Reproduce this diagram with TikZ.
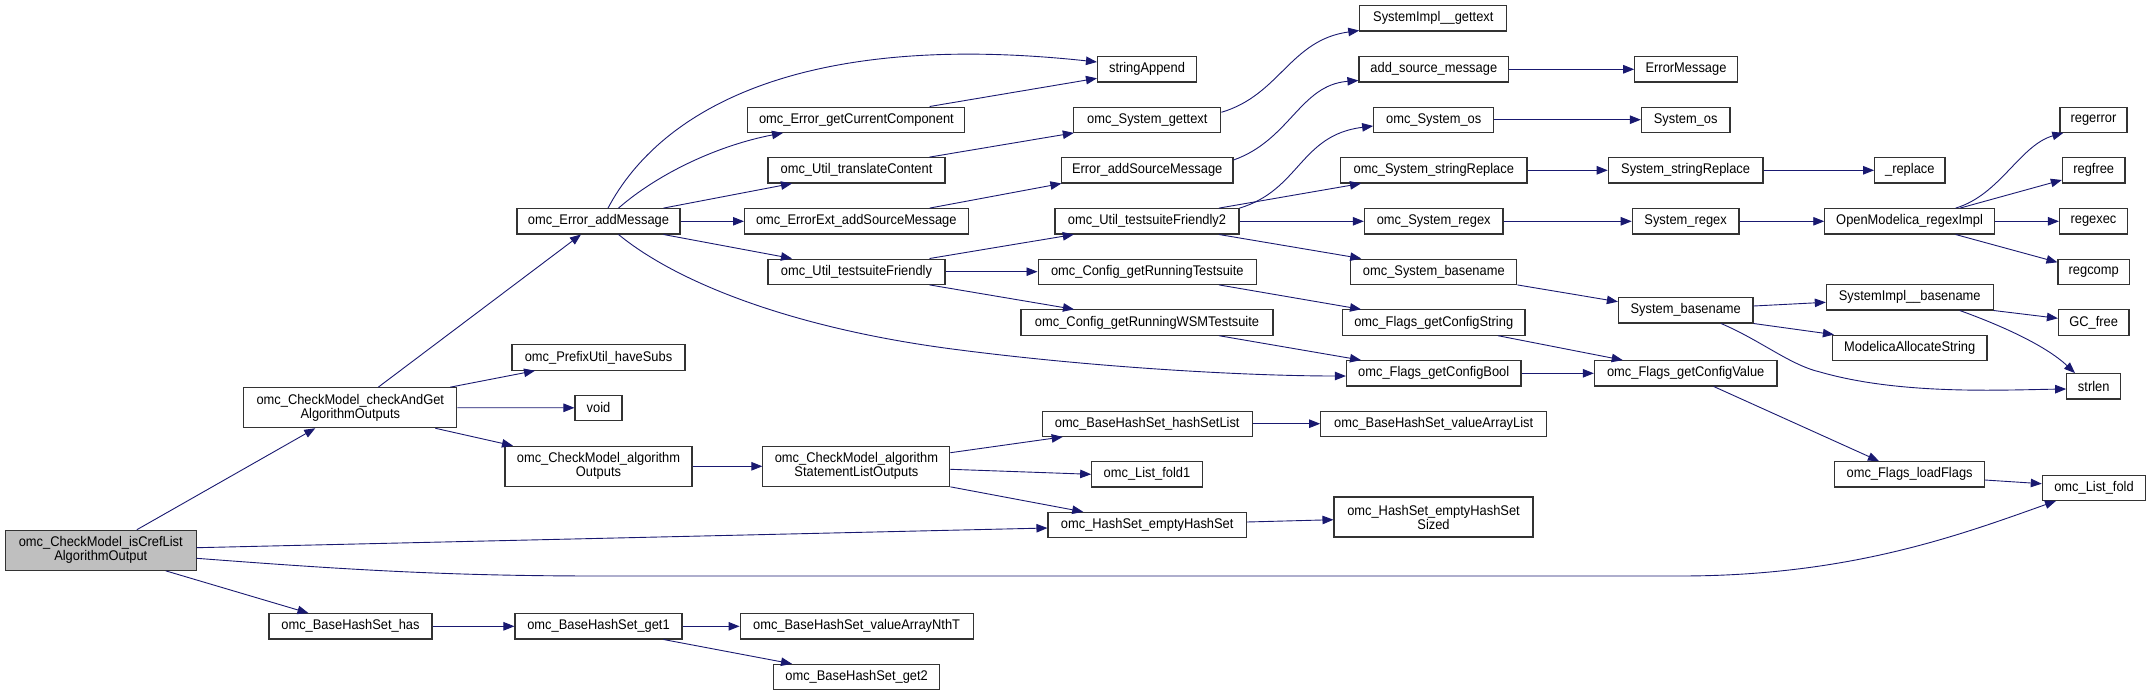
\documentclass[tikz,border=0pt]{standalone}
\usepackage{fontspec}
\setmainfont{Liberation Sans}[FakeStretch=0.92]
\usetikzlibrary{arrows.meta}
\definecolor{edgeblue}{HTML}{191970}
\definecolor{mainfill}{HTML}{BFBFBF}
\newcommand\nodefont{\fontsize{14pt}{14pt}\selectfont}
\tikzset{
  box/.style={draw=black!80, line width=1.1pt, fill=white, inner sep=0pt,
    minimum height=25.3pt, align=center, font=\nodefont},
  tall/.style={minimum height=40pt},
  mainbox/.style={box, tall, fill=mainfill},
  edge/.style={draw=edgeblue, line width=0.9pt, -{Triangle[length=11pt,width=8.5pt]}}
}
\begin{document}
\begin{tikzpicture}[x=1pt,y=-1pt]
\useasboundingbox (0,0) rectangle (2151,696);
% column 1-2
\node[mainbox, minimum width=190.5pt] (main) at (100.8,550.3) {omc\_CheckModel\_isCrefList\\AlgorithmOutput};
\node[box, tall, minimum width=213pt] (cag) at (350.3,407.7) {omc\_CheckModel\_checkAndGet\\AlgorithmOutputs};
\node[box, minimum width=163pt] (bhas) at (350.5,626.3) {omc\_BaseHashSet\_has};
% column 3
\node[box, minimum width=163pt] (eam) at (598.5,221.3) {omc\_Error\_addMessage};
\node[box, minimum width=173pt] (phs) at (598.5,357.5) {omc\_PrefixUtil\_haveSubs};
\node[box, minimum width=47pt] (void) at (598.5,407.8) {void};
\node[box, tall, minimum width=187pt] (cmao) at (598.5,466.3) {omc\_CheckModel\_algorithm\\Outputs};
\node[box, minimum width=167pt] (get1) at (598.5,626.3) {omc\_BaseHashSet\_get1};
% column 4
\node[box, minimum width=217pt] (egcc) at (856.4,119.7) {omc\_Error\_getCurrentComponent};
\node[box, minimum width=177pt] (utc) at (856.5,170.3) {omc\_Util\_translateContent};
\node[box, minimum width=223.5pt] (eeasm) at (856.3,221.3) {omc\_ErrorExt\_addSourceMessage};
\node[box, minimum width=177pt] (utf) at (856.5,271.7) {omc\_Util\_testsuiteFriendly};
\node[box, tall, minimum width=187pt] (cmaslo) at (856.4,466.3) {omc\_CheckModel\_algorithm\\StatementListOutputs};
\node[box, minimum width=233pt] (nth) at (856.6,626.3) {omc\_BaseHashSet\_valueArrayNthT};
\node[box, minimum width=166pt] (get2) at (856.6,677) {omc\_BaseHashSet\_get2};
% column 5
\node[box, minimum width=99pt] (sapp) at (1147,69.3) {stringAppend};
\node[box, minimum width=147pt] (sgt) at (1147.3,119.7) {omc\_System\_gettext};
\node[box, minimum width=171.6pt] (easm) at (1147.2,170.3) {Error\_addSourceMessage};
\node[box, minimum width=184pt] (utf2) at (1147,221.3) {omc\_Util\_testsuiteFriendly2};
\node[box, minimum width=218.5pt] (cgrt) at (1147.3,271.7) {omc\_Config\_getRunningTestsuite};
\node[box, minimum width=252pt] (cgrw) at (1147,322.5) {omc\_Config\_getRunningWSMTestsuite};
\node[box, minimum width=210pt] (hsl) at (1147.2,423.7) {omc\_BaseHashSet\_hashSetList};
\node[box, minimum width=110.6pt] (lf1) at (1147,474.3) {omc\_List\_fold1};
\node[box, minimum width=198.4pt] (hse) at (1147.2,525) {omc\_HashSet\_emptyHashSet};
% column 6
\node[box, minimum width=147pt] (sig) at (1433.3,18.3) {SystemImpl\_\_gettext};
\node[box, minimum width=149.7pt] (asm) at (1433.8,69.3) {add\_source\_message};
\node[box, minimum width=120pt] (sos) at (1433.7,119.7) {omc\_System\_os};
\node[box, minimum width=186.4pt] (ssr) at (1433.8,170.3) {omc\_System\_stringReplace};
\node[box, minimum width=138.6pt] (sre) at (1433.7,221.3) {omc\_System\_regex};
\node[box, minimum width=166pt] (sbn) at (1433.8,271.7) {omc\_System\_basename};
\node[box, minimum width=182.6pt] (fgcs) at (1433.7,322.5) {omc\_Flags\_getConfigString};
\node[box, minimum width=174.5pt] (fgcb) at (1433.7,373.3) {omc\_Flags\_getConfigBool};
\node[box, minimum width=226pt] (vral) at (1433.7,423.7) {omc\_BaseHashSet\_valueArrayList};
\node[box, tall, minimum width=199pt] (hses) at (1433.5,517) {omc\_HashSet\_emptyHashSet\\Sized};
% column 7
\node[box, minimum width=102.5pt] (em) at (1686,69.3) {ErrorMessage};
\node[box, minimum width=88.6pt] (Sos) at (1685.7,119.7) {System\_os};
\node[box, minimum width=154.7pt] (Ssr) at (1685.6,170.3) {System\_stringReplace};
\node[box, minimum width=106.7pt] (Sre) at (1685.6,221.3) {System\_regex};
\node[box, minimum width=134.6pt] (Sbn) at (1685.7,310.3) {System\_basename};
\node[box, minimum width=182.6pt] (fgcv) at (1685.7,373.3) {omc\_Flags\_getConfigValue};
% column 8
\node[box, minimum width=70.4pt] (rep) at (1909.8,170.3) {\_replace};
\node[box, minimum width=169.6pt] (rei) at (1909.6,221.3) {OpenModelica\_regexImpl};
\node[box, minimum width=166.7pt] (sib) at (1909.7,297.3) {SystemImpl\_\_basename};
\node[box, minimum width=154.5pt] (mas) at (1909.7,347.8) {ModelicaAllocateString};
\node[box, minimum width=149.4pt] (lfl) at (1909.6,474.3) {omc\_Flags\_loadFlags};
% column 9
\node[box, minimum width=67pt] (regerror) at (2093.5,119.7) {regerror};
\node[box, minimum width=62.6pt] (regfree) at (2093.7,170.3) {regfree};
\node[box, minimum width=68pt] (regexec) at (2093.5,221.3) {regexec};
\node[box, minimum width=71.4pt] (regcomp) at (2093.7,271.7) {regcomp};
\node[box, minimum width=70.5pt] (gcf) at (2093.7,322.5) {GC\_free};
\node[box, minimum width=54pt] (strlen) at (2093.7,386.3) {strlen};
\node[box, minimum width=103.4pt] (lfold) at (2094,487.7) {omc\_List\_fold};

% edges from main
\draw[edge] ([xshift=36]main.north) -- ([xshift=-35]cag.south);
\draw[edge] ([yshift=2.6]main.east) -- ([yshift=-3]hse.west);
\draw[edge] ([yshift=-8]main.east) .. controls (350,570) and (450,576) .. (600,576) -- (1680,576) .. controls (1850,576) and (1960,535) .. ([xshift=-38]lfold.south);
\draw[edge] ([xshift=65]main.south) -- ([xshift=-42]bhas.north);
% checkAndGet
\draw[edge] ([xshift=28]cag.north) -- ([xshift=-17.5]eam.south);
\draw[edge] ([xshift=100]cag.north) -- ([xshift=-63.5]phs.south);
\draw[edge] (cag.east) -- (void.west);
\draw[edge] ([xshift=85]cag.south) -- ([xshift=-85.5]cmao.north);
\draw[edge] (cmao.east) -- (cmaslo.west);
% statement list outputs
\draw[edge] ([yshift=13.6]cmaslo.east) -- ([xshift=-84.5]hsl.south);
\draw[edge] ([yshift=-3]cmaslo.east) -- (lf1.west);
\draw[edge] (cmaslo.south east) -- ([xshift=-64]hse.north);
\draw[edge] (hsl.east) -- (vral.west);
\draw[edge] ([yshift=3]hse.east) -- ([yshift=-2.7]hses.west);
% hash set has
\draw[edge] (bhas.east) -- (get1.west);
\draw[edge] (get1.east) -- (nth.west);
\draw[edge] ([xshift=65]get1.south) -- ([xshift=-64.6]get2.north);
% error add message
\draw[edge] ([xshift=9.5]eam.north) .. controls (660,110) and (800,30) .. ([yshift=7.3]sapp.west);
\draw[edge] ([xshift=20]eam.north) .. controls (660,172) and (720,145) .. ([xshift=-73.4]egcc.south);
\draw[edge] ([xshift=65]eam.north) -- ([xshift=-64.5]utc.south);
\draw[edge] (eam.east) -- (eeasm.west);
\draw[edge] ([xshift=65]eam.south) -- ([xshift=-64.5]utf.north);
\draw[edge] ([xshift=20]eam.south) .. controls (680,285) and (800,330) .. (960,350) .. controls (1100,368) and (1250,376) .. ([yshift=-2.7]fgcb.west);
% column 4 -> 5
\draw[edge] ([xshift=73.2]egcc.north) -- ([yshift=-9]sapp.west);
\draw[edge] ([xshift=73]utc.north) -- ([xshift=-73.5]sgt.south);
\draw[edge] ([xshift=73.3]eeasm.north) -- ([xshift=-85.8]easm.south);
\draw[edge] ([xshift=73]utf.north) -- ([xshift=-73.2]utf2.south);
\draw[edge] (utf.east) -- (cgrt.west);
\draw[edge] ([xshift=73]utf.south) -- ([xshift=-73]cgrw.north);
% column 5 -> 6
\draw[edge] ([yshift=7.4]sgt.east) .. controls (1280,95) and (1290,40) .. ([yshift=1]sig.south west);
\draw[edge] ([yshift=10.3]easm.east) .. controls (1290,140) and (1300,85) .. ([yshift=2]asm.south west);
\draw[edge] (utf2.north east) .. controls (1300,190) and (1300,135) .. ([yshift=-6.3]sos.west);
\draw[edge] ([xshift=72]utf2.north) -- ([xshift=-72.8]ssr.south);
\draw[edge] (utf2.east) -- (sre.west);
\draw[edge] ([xshift=72]utf2.south) -- ([xshift=-72.6]sbn.north);
\draw[edge] ([xshift=71.7]cgrt.south) -- ([xshift=-72.7]fgcs.north);
\draw[edge] ([xshift=72]cgrw.south) -- ([xshift=-72.7]fgcb.north);
% column 6 -> 7
\draw[edge] (asm.east) -- (em.west);
\draw[edge] (sos.east) -- (Sos.west);
\draw[edge] (ssr.east) -- (Ssr.west);
\draw[edge] (sre.east) -- (Sre.west);
\draw[edge] (sbn.south east) -- ([yshift=8.6]Sbn.west);
\draw[edge] ([xshift=64.3]fgcs.south) -- ([xshift=-63]fgcv.north);
\draw[edge] (fgcb.east) -- (fgcv.west);
% column 7 -> 8
\draw[edge] (Ssr.east) -- (rep.west);
\draw[edge] (Sre.east) -- (rei.west);
\draw[edge] ([yshift=4.3]Sbn.east) -- ([yshift=-5]sib.west);
\draw[edge] (Sbn.south east) -- ([xshift=2]mas.north west);
\draw[edge] ([xshift=35.3]Sbn.south) .. controls (1760,340) and (1790,365) .. (1820,372) .. controls (1900,395) and (2000,390) .. ([yshift=-2.7]strlen.west);
\draw[edge] ([xshift=28]fgcv.south) -- ([xshift=-30.6]lfl.north);
% column 8 -> 9
\draw[edge] ([xshift=46]rei.north) .. controls (2000,195) and (2020,145) .. ([xshift=-30.2]regerror.south);
\draw[edge] ([xshift=50.4]rei.north) -- ([yshift=-9.7]regfree.west);
\draw[edge] (rei.east) -- (regexec.west);
\draw[edge] ([xshift=46]rei.south) -- ([yshift=9.4]regcomp.west);
\draw[edge] (sib.south east) -- ([yshift=4.2]gcf.west);
\draw[edge] ([xshift=50]sib.south) .. controls (2000,325) and (2045,345) .. ([xshift=-18.7]strlen.north);
\draw[edge] ([yshift=-5.7]lfl.east) -- ([yshift=4]lfold.west);
\end{tikzpicture}
\end{document}
